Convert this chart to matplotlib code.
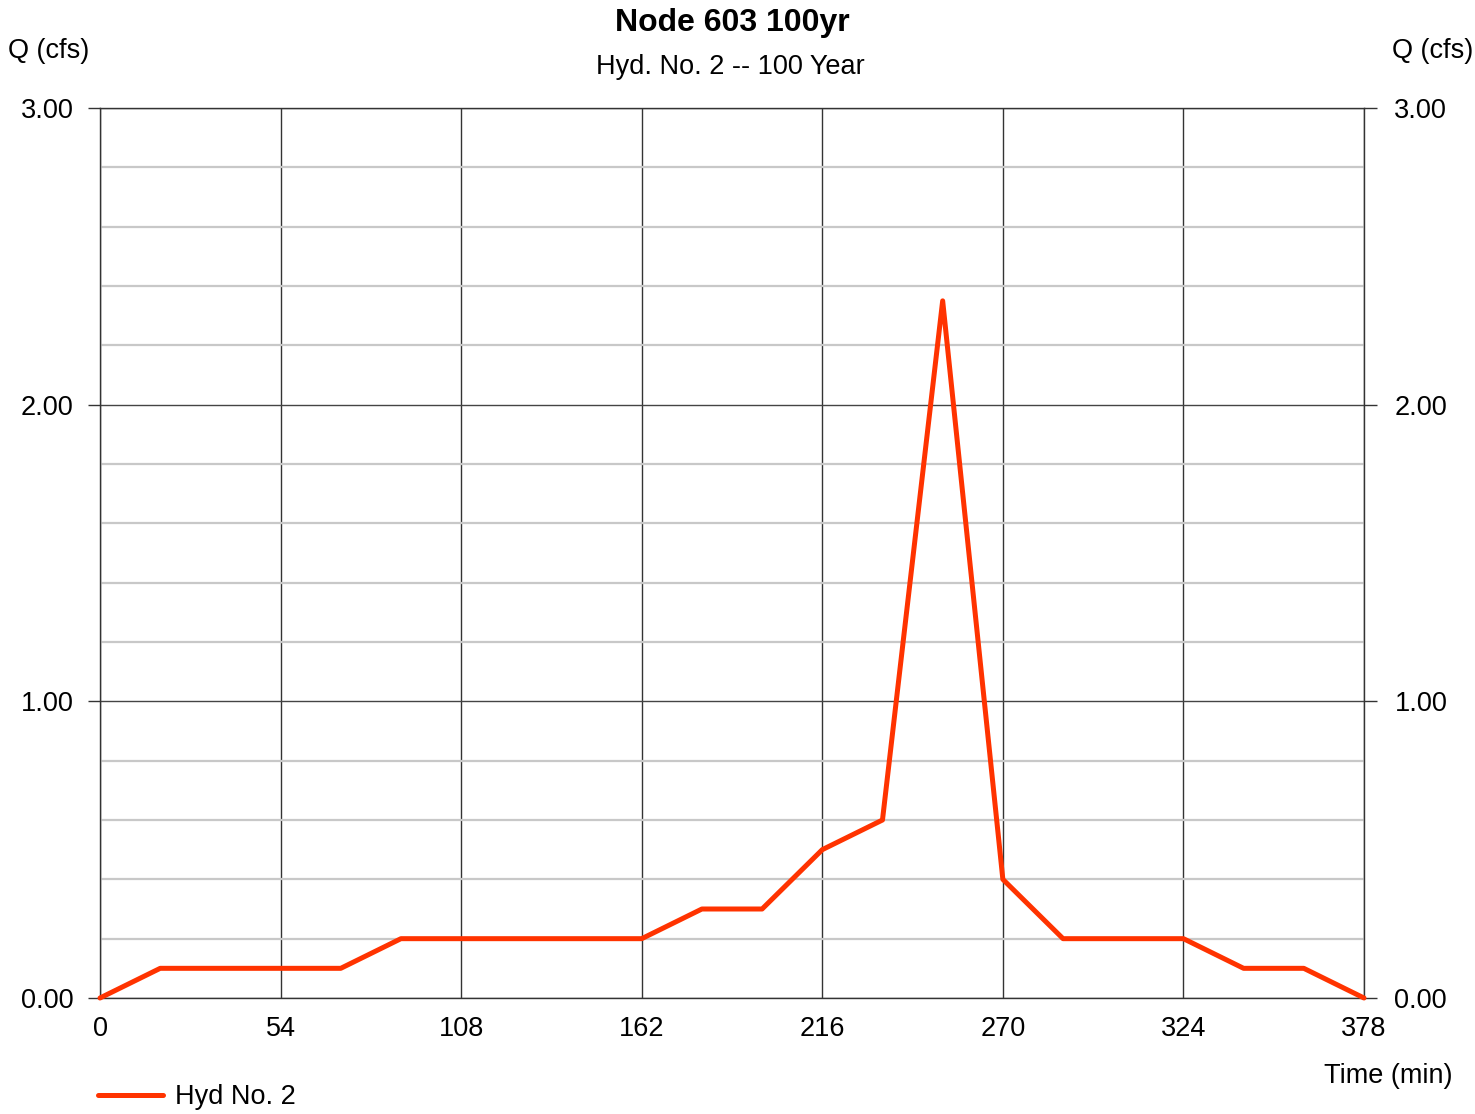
import matplotlib
matplotlib.use("Agg")
import matplotlib.pyplot as plt
from matplotlib.ticker import MultipleLocator
from matplotlib.transforms import ScaledTranslation

plt.rcParams['font.family'] = ['Liberation Sans', 'DejaVu Sans']

# Hydrograph ordinates (18-minute time step)
time_min = [0, 18, 36, 54, 72, 90, 108, 126, 144, 162, 180, 198, 216, 234,
            252, 270, 288, 306, 324, 342, 360, 378]
flow_cfs = [0.0, 0.1, 0.1, 0.1, 0.1, 0.2, 0.2, 0.2, 0.2, 0.2, 0.3, 0.3, 0.5, 0.6,
            2.35, 0.4, 0.2, 0.2, 0.2, 0.1, 0.1, 0.0]

x_ticks = [0, 54, 108, 162, 216, 270, 324, 378]
y_ticks = [0.0, 1.0, 2.0, 3.0]

FS = 19.5

W, H = 1475, 1114
fig = plt.figure(figsize=(W / 100, H / 100), dpi=100)
ax = fig.add_axes([100 / W, 1 - 998 / H, 1264 / W, 890 / H])

ax.set_xlim(0, 378)
ax.set_ylim(0, 3)

# minor horizontal grid (every 0.2 cfs)
ax.yaxis.set_minor_locator(MultipleLocator(0.2))
ax.grid(which='minor', axis='y', color='#c8c8c8', linewidth=1.6, zorder=0)
ax.grid(which='major', axis='y', color='#444444', linewidth=1.0, zorder=1)
ax.grid(which='major', axis='x', color='#333333', linewidth=1.0, zorder=1)

ax.set_xticks(x_ticks)
ax.set_xticklabels([str(v) for v in x_ticks])
ax.set_yticks(y_ticks)
ax.set_yticklabels([f"{v:.2f}" for v in y_ticks])

for s in ax.spines.values():
    s.set_color('#333333')
    s.set_linewidth(1.0)

ax.tick_params(axis='y', which='major', length=9, width=1.0, color='#333333',
               labelsize=FS, pad=10, left=True, right=True,
               labelleft=True, labelright=True)
ax.tick_params(axis='y', which='minor', length=0)
ax.tick_params(axis='x', which='major', length=0, labelsize=FS, pad=13)

# nudge the right-hand value labels a little further out
shift = ScaledTranslation(4 / 100, 0, fig.dpi_scale_trans)
for t in ax.yaxis.get_major_ticks():
    t.label2.set_transform(t.label2.get_transform() + shift)

line, = ax.plot(time_min, flow_cfs, color='#ff3300', linewidth=3.6,
                solid_joinstyle='round', solid_capstyle='round', zorder=3,
                clip_on=False, label='Hyd No. 2')

fig.text(732 / W, 1 - 23 / H, 'Node 603 100yr', ha='center', va='center',
         fontsize=23, fontweight='bold')
fig.text(730 / W, 1 - 67 / H, 'Hyd. No. 2 -- 100 Year', ha='center', va='center',
         fontsize=FS)
fig.text(8 / W, 1 - 51 / H, 'Q (cfs)', ha='left', va='center', fontsize=FS)
fig.text(1473 / W, 1 - 51 / H, 'Q (cfs)', ha='right', va='center', fontsize=FS)
fig.text(1452 / W, 1 - 1076 / H, 'Time (min)', ha='right', va='center', fontsize=FS)

leg = fig.legend(handles=[line], loc='center left',
                 bbox_to_anchor=(98 / W, 1 - 1097 / H), frameon=False,
                 fontsize=FS, handlelength=2.4, handletextpad=0.45,
                 borderpad=0, borderaxespad=0)

fig.savefig('out.png', dpi=100)
